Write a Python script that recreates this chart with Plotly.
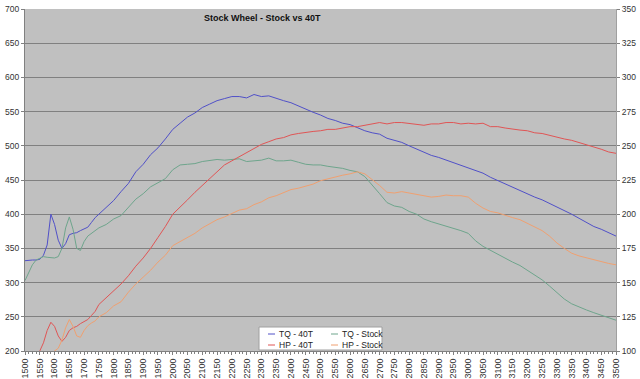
import plotly.graph_objects as go

# ---------------- data ----------------
rpm = [1500, 1512.5, 1525, 1537.5, 1550, 1562.5, 1575, 1587.5, 1600, 1612.5,
       1625, 1637.5, 1650, 1662.5, 1675, 1687.5, 1700, 1712.5, 1725, 1737.5,
       1750, 1775, 1800, 1825, 1850, 1875, 1900, 1925, 1950, 1975,
       2000, 2025, 2050, 2075, 2100, 2125, 2150, 2175, 2200, 2225,
       2250, 2275, 2300, 2325, 2350, 2375, 2400, 2425, 2450, 2475,
       2500, 2525, 2550, 2575, 2600, 2625, 2650, 2675, 2700, 2725,
       2750, 2775, 2800, 2825, 2850, 2875, 2900, 2925, 2950, 2975,
       3000, 3025, 3050, 3075, 3100, 3125, 3150, 3175, 3200, 3225,
       3250, 3275, 3300, 3325, 3350, 3375, 3400, 3425, 3450, 3475, 3500]

tq_40t = [332, 333, 333, 333, 334, 340, 355, 400, 385, 362,
          350, 357, 370, 372, 373, 376, 378, 381, 388, 395,
          400, 410, 420, 433, 445, 462, 473, 487, 497, 510,
          524, 533, 542, 548, 556, 561, 566, 569, 572, 572,
          570, 575, 572, 573, 569, 566, 563, 558, 554, 549,
          545, 540, 537, 533, 531, 526, 522, 519, 517, 511,
          508, 505, 500, 495, 490, 486, 483, 479, 475, 472,
          468, 464, 460, 454, 449, 444, 440, 435, 430, 425,
          421, 416, 411, 405, 400, 394, 388, 382, 378, 373, 368]

tq_stock = [303, 315, 326, 333, 336, 338, 337, 336, 336, 338,
            350, 380, 396, 378, 350, 347, 360, 368, 372, 377,
            380, 385, 393, 398, 410, 422, 430, 440, 446, 452,
            465, 472, 473, 474, 477, 479, 480, 479, 480, 481,
            477, 478, 479, 482, 478, 478, 479, 476, 473, 472,
            472, 470, 469, 467, 464, 462, 455, 443, 430, 417,
            412, 410, 404, 400, 393, 389, 386, 383, 380, 376,
            372, 361, 353, 347, 341, 336, 330, 325, 318, 311,
            304, 295, 285, 276, 269, 264, 260, 256, 252, 248, 245]

hp_40t = [85, 88, 92, 96, 100, 106, 115, 121, 118, 111,
          107, 110, 115, 117, 118, 120, 121.5, 123, 126, 129,
          134, 139, 144, 149, 155, 162, 168, 175, 183, 191,
          200, 205, 210.5, 216, 221, 226, 231, 236, 239, 242,
          245, 248, 251, 253, 255, 256, 258, 259, 260, 260.5,
          261, 262, 262, 263, 264, 264, 265, 266, 267, 266,
          267, 267, 266.5, 266, 265, 266, 266, 267, 267, 266,
          266.5, 266, 266.5, 264, 264, 263, 262, 261.5, 261, 259.5,
          259, 257.5, 256.5, 255, 254, 252.5, 251, 249.5, 247.5, 245.5, 244.5]

hp_stock = [85, 87, 89, 91, 93, 95, 97, 98, 100, 102,
            108, 117, 123, 118, 111, 110, 115, 118.5, 120.5, 122,
            125, 128, 133, 136, 143, 149, 154, 159, 165, 170,
            177, 180, 183, 186, 190, 193, 196, 198, 200.5, 203,
            204, 207, 209, 212, 213.5, 216, 218, 219, 220.5, 222,
            224.5, 226, 227.5, 228.5, 229.5, 231, 229.5, 225.5, 221, 216,
            215.5, 216.5, 215.5, 214, 213, 212.5, 213, 214, 213.5, 213.5,
            212.5, 208, 204.5, 202, 201, 199, 197.5, 196, 193.5, 190.5,
            188, 184, 179, 175, 171.5, 169.5, 168, 166.5, 165, 164, 163]

x_ticks = list(range(1500, 3501, 50))
y_left_ticks = list(range(200, 701, 50))
y_right_ticks = list(range(100, 351, 25))

series = [
    ("TQ - 40T", tq_40t, "y", "#5050c8"),
    ("TQ - Stock", tq_stock, "y", "#6ea58c"),
    ("HP - 40T", hp_40t, "y2", "#e05555"),
    ("HP - Stock", hp_stock, "y2", "#f0a070"),
]

# ---------------- figure ----------------
W, H = 640, 379
L, R, T, B = 25, 24, 9, 28
pw, ph = W - L - R, H - T - B

def px(x):
    return (x - L) / pw

def py(y):
    return (H - B - y) / ph

fig = go.Figure()
for name, vals, ax, col in series:
    fig.add_trace(go.Scatter(x=rpm, y=vals, yaxis=ax, name=name, mode="lines",
                             line=dict(color=col, width=1), showlegend=False,
                             cliponaxis=True))

FONT = "Liberation Sans, Arial, sans-serif"
tickfont = dict(family=FONT, size=8.5, color="#333333")
xtickfont = dict(family=FONT, size=9, color="#333333")

fig.update_layout(
    width=W, height=H,
    margin=dict(l=L, r=R, t=T, b=B, pad=0),
    paper_bgcolor="white",
    plot_bgcolor="#c0c0c0",
    template="none",
    xaxis=dict(range=[1500, 3500], tickmode="array", tickvals=x_ticks,
               ticktext=[str(v) for v in x_ticks], tickangle=-90,
               tickfont=xtickfont, showgrid=False, zeroline=False,
               showline=True, linecolor="#808080", linewidth=1,
               ticks="outside", ticklen=3, tickcolor="#808080",
               minor=dict(dtick=12.5, ticks="outside", ticklen=2, tickcolor="#808080"),
               automargin=False),
    yaxis=dict(range=[200, 700], tickmode="array", tickvals=y_left_ticks,
               tickfont=tickfont, showgrid=True, gridcolor="#808080", gridwidth=1,
               zeroline=False, showline=True, linecolor="#808080", linewidth=1,
               ticks="outside", ticklen=3, tickcolor="#808080", automargin=False),
    yaxis2=dict(range=[100, 350], tickmode="array", tickvals=y_right_ticks,
                overlaying="y", side="right", tickfont=tickfont, showgrid=False,
                zeroline=False, showline=True, linecolor="#a0a0a0", linewidth=1,
                ticks="outside", ticklen=3, tickcolor="#808080", automargin=False),
)

# title
fig.add_annotation(text="<b>Stock Wheel - Stock vs 40T</b>", xref="paper", yref="paper",
                   x=px(262), y=py(18), xanchor="center", yanchor="middle", showarrow=False,
                   font=dict(family=FONT, size=9, color="#111111"))

# legend box (drawn as a boxed key)
fig.add_shape(type="rect", xref="paper", yref="paper",
              x0=px(259), x1=px(382), y0=py(350), y1=py(327),
              fillcolor="white", line=dict(color="#a0a0a0", width=1), layer="above")
legend_pos = [(268, 334), (331, 334), (268, 345), (331, 345)]
for (name, vals, ax, col), (lx, ly) in zip(series, legend_pos):
    fig.add_shape(type="line", xref="paper", yref="paper",
                  x0=px(lx), x1=px(lx + 7), y0=py(ly), y1=py(ly),
                  line=dict(color=col, width=1), layer="above")
    fig.add_annotation(text=name, xref="paper", yref="paper", x=px(lx + 9), y=py(ly),
                       xanchor="left", yanchor="middle", showarrow=False,
                       font=dict(family=FONT, size=8.5, color="#222222"))

fig.write_html("out.html", config={"displayModeBar": False},
               post_script="document.body.style.margin='0';document.body.style.overflow='hidden';")
